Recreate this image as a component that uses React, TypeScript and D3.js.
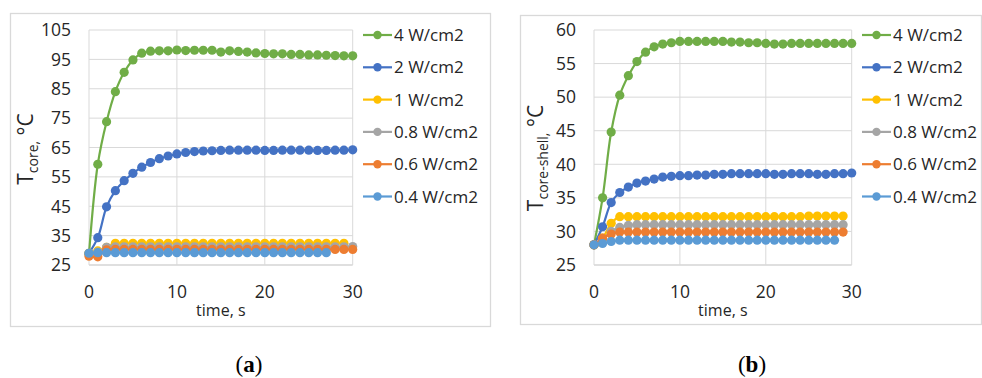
import React from "react";
import * as d3 from "d3";

// time axis, seconds
const TIME = d3.range(0, 31);

const SERIES_NAMES = ["4 W/cm2", "2 W/cm2", "1 W/cm2", "0.8 W/cm2", "0.6 W/cm2", "0.4 W/cm2"];
const SERIES_COLORS = ["#70AD47", "#4472C4", "#FFC000", "#A5A5A5", "#ED7D31", "#5B9BD5"];

// (a) core temperature
const coreP4 = [28.8, 59.3, 73.8, 84.0, 90.6, 94.8, 97.1, 97.8, 97.9, 97.9, 98.2, 98.0, 98.1, 98.1, 98.1, 97.5, 97.9, 97.7, 97.5, 97.2, 97.0, 96.9, 96.9, 96.7, 96.7, 96.5, 96.5, 96.4, 96.3, 96.2, 96.2];
const coreP2 = [29.0, 34.3, 44.8, 50.3, 53.7, 56.2, 58.3, 59.9, 61.2, 62.1, 62.8, 63.3, 63.6, 63.8, 63.9, 64.0, 64.1, 64.1, 64.1, 64.1, 64.0, 64.0, 64.1, 64.1, 64.1, 64.1, 64.0, 64.0, 64.1, 64.1, 64.2];
const coreP1 = [29.0, 29.8, 31.0, 32.4, 32.4, 32.4, 32.4, 32.4, 32.4, 32.4, 32.4, 32.4, 32.4, 32.4, 32.4, 32.4, 32.4, 32.4, 32.4, 32.4, 32.4, 32.4, 32.4, 32.4, 32.4, 32.4, 32.4, 32.4, 32.4, 32.4];
const coreP08 = [29.0, 29.4, 31.0, 31.2, 31.2, 31.2, 31.2, 31.2, 31.2, 31.2, 31.2, 31.2, 31.2, 31.2, 31.2, 31.2, 31.2, 31.2, 31.2, 31.2, 31.2, 31.2, 31.2, 31.2, 31.2, 31.2, 31.2, 31.2, 31.2, 31.2, 31.3];
const coreP06 = [28.0, 27.8, 30.2, 30.3, 30.3, 30.3, 30.3, 30.3, 30.3, 30.3, 30.3, 30.3, 30.3, 30.3, 30.3, 30.3, 30.3, 30.3, 30.3, 30.3, 30.3, 30.3, 30.3, 30.3, 30.3, 30.3, 30.3, 30.3, 30.3, 30.3, 30.3];
const coreP04 = [29.0, 29.2, 29.2, 29.2, 29.2, 29.2, 29.2, 29.2, 29.2, 29.2, 29.2, 29.2, 29.2, 29.2, 29.2, 29.2, 29.2, 29.2, 29.2, 29.2, 29.2, 29.2, 29.2, 29.2, 29.2, 29.2, 29.2, 29.2];
const coreTicks = [25, 35, 45, 55, 65, 75, 85, 95, 105];

// (b) core-shell temperature
const shellP4 = [28.0, 35.0, 44.8, 50.3, 53.2, 55.3, 56.7, 57.5, 57.9, 58.1, 58.3, 58.3, 58.3, 58.3, 58.3, 58.3, 58.2, 58.2, 58.1, 58.1, 58.0, 57.9, 57.9, 58.0, 58.0, 58.0, 58.0, 58.0, 58.0, 58.0, 58.0];
const shellP2 = [28.0, 30.7, 34.3, 35.8, 36.6, 37.2, 37.5, 37.8, 38.1, 38.2, 38.3, 38.3, 38.4, 38.4, 38.5, 38.5, 38.6, 38.6, 38.6, 38.6, 38.6, 38.5, 38.5, 38.6, 38.6, 38.6, 38.5, 38.5, 38.6, 38.6, 38.7];
const shellP1 = [28.0, 29.0, 31.2, 32.2, 32.2, 32.2, 32.2, 32.2, 32.2, 32.2, 32.2, 32.2, 32.2, 32.2, 32.2, 32.2, 32.2, 32.2, 32.2, 32.2, 32.2, 32.2, 32.2, 32.2, 32.2, 32.3, 32.3, 32.3, 32.3, 32.3];
const shellP08 = [28.0, 28.8, 30.0, 30.6, 30.9, 31.0, 31.0, 31.0, 31.0, 31.0, 31.0, 31.0, 31.0, 31.0, 31.0, 31.0, 31.0, 31.0, 31.0, 31.0, 31.0, 31.0, 31.0, 31.0, 31.0, 31.0, 31.0, 31.0, 31.0, 31.0];
const shellP06 = [28.0, 29.0, 29.6, 29.9, 29.9, 29.9, 29.9, 29.9, 29.9, 29.9, 29.9, 29.9, 29.9, 29.9, 29.9, 29.9, 29.9, 29.9, 29.9, 29.9, 29.9, 29.9, 29.9, 29.9, 29.9, 29.9, 29.9, 29.9, 29.9, 29.9];
const shellP04 = [28.0, 28.2, 28.5, 28.7, 28.7, 28.7, 28.7, 28.7, 28.7, 28.7, 28.7, 28.7, 28.7, 28.7, 28.7, 28.7, 28.7, 28.7, 28.7, 28.7, 28.7, 28.7, 28.7, 28.7, 28.7, 28.7, 28.7, 28.7, 28.7];
const shellTicks = [25, 30, 35, 40, 45, 50, 55, 60];

const X_TICKS = [0, 10, 20, 30];

const FONT = "'Open Sans', 'Noto Sans', sans-serif";
const GRID = "#d9d9d9";

type PanelProps = {
  frame: { x0: number; y0: number; x1: number; y1: number };
  plot: { left: number; right: number; top: number; bottom: number };
  yTicks: number[];
  series: number[][];
  ySub: string;
  yLabelPos: { x: number; y: number };
  legendX: number;
  caption: string;
  captionX: number;
};

function Panel(p: PanelProps) {
  const x = d3.scaleLinear().domain([0, 30]).range([p.plot.left, p.plot.right]);
  const y = d3
    .scaleLinear()
    .domain([p.yTicks[0], p.yTicks[p.yTicks.length - 1]])
    .range([p.plot.bottom, p.plot.top]);
  const line = d3
    .line<number>()
    .x((d, i) => x(TIME[i]))
    .y((d) => y(d))
    .curve(d3.curveCatmullRom.alpha(0.5));

  const legendY = d3.scalePoint<number>().domain(d3.range(6)).range([35, 196.5]);

  return (
    <g>
      <rect
        x={p.frame.x0 + 0.5}
        y={p.frame.y0 + 0.5}
        width={p.frame.x1 - p.frame.x0}
        height={p.frame.y1 - p.frame.y0}
        fill="#fff"
        stroke={GRID}
        strokeWidth={1.3}
      />
      {/* grid */}
      {p.yTicks.map((t) => (
        <line key={"h" + t} x1={p.plot.left} x2={p.plot.right} y1={y(t)} y2={y(t)} stroke={t === p.yTicks[0] ? "#bfbfbf" : GRID} strokeWidth={1} />
      ))}
      {X_TICKS.map((t) => (
        <line key={"v" + t} x1={x(t)} x2={x(t)} y1={p.plot.top} y2={p.plot.bottom} stroke={GRID} strokeWidth={1} />
      ))}
      {/* tick labels */}
      {p.yTicks.map((t) => (
        <text key={"yt" + t} x={p.plot.left - 18} y={y(t)} dy="0.36em" textAnchor="end" fontFamily={FONT} fontSize={17.5} fill="#262626">
          {t}
        </text>
      ))}
      {X_TICKS.map((t) => (
        <text key={"xt" + t} x={x(t)} y={p.plot.bottom + 33} textAnchor="middle" fontFamily={FONT} fontSize={17.5} fill="#262626">
          {t}
        </text>
      ))}
      <text x={(p.plot.left + p.plot.right) / 2} y={p.plot.bottom + 51} textAnchor="middle" fontFamily={FONT} fontSize={16} fill="#262626">
        time, s
      </text>
      <text
        transform={`translate(${p.yLabelPos.x},${p.yLabelPos.y}) rotate(-90)`}
        textAnchor="middle"
        fontFamily={FONT}
        fontSize={21}
        fill="#262626"
      >
        <tspan>T</tspan>
        <tspan fontSize={14} dy={5}>{p.ySub}</tspan>
        <tspan dy={-5}> °C</tspan>
      </text>
      {/* series */}
      {p.series.map((s, i) => (
        <g key={"s" + i}>
          <path d={line(s) || ""} fill="none" stroke={SERIES_COLORS[i]} strokeWidth={2.2} />
          {s.map((v, j) => (
            <circle key={j} cx={x(TIME[j])} cy={y(v)} r={4.6} fill={SERIES_COLORS[i]} />
          ))}
        </g>
      ))}
      {/* legend */}
      {SERIES_NAMES.map((n, i) => (
        <g key={"l" + i}>
          <line x1={p.legendX} x2={p.legendX + 29} y1={legendY(i)} y2={legendY(i)} stroke={SERIES_COLORS[i]} strokeWidth={2.2} />
          <circle cx={p.legendX + 14.5} cy={legendY(i)} r={4.2} fill={SERIES_COLORS[i]} />
          <text x={p.legendX + 31} y={legendY(i)} dy="0.36em" fontFamily={FONT} fontSize={17} fill="#262626">
            {n}
          </text>
        </g>
      ))}
      <text x={p.captionX} y={372} textAnchor="middle" fontFamily="'Liberation Serif', serif" fontSize={23} fill="#000">
        (<tspan fontWeight="bold">{p.caption}</tspan>)
      </text>
    </g>
  );
}

export default function App() {
  return (
    <svg width={982} height={378} style={{ position: "absolute", left: 0, top: 0, background: "#fff" }}>
      <Panel
        frame={{ x0: 10, y0: 13, x1: 490, y1: 326 }}
        plot={{ left: 89, right: 352.7, top: 30, bottom: 265 }}
        yTicks={coreTicks}
        series={[coreP4, coreP2, coreP1, coreP08, coreP06, coreP04]}
        ySub="core,"
        yLabelPos={{ x: 33, y: 149 }}
        legendX={363}
        caption="a"
        captionX={249}
      />
      <Panel
        frame={{ x0: 520, y0: 15, x1: 981, y1: 324 }}
        plot={{ left: 594, right: 851.7, top: 30, bottom: 265 }}
        yTicks={shellTicks}
        series={[shellP4, shellP2, shellP1, shellP08, shellP06, shellP04]}
        ySub="core-shell,"
        yLabelPos={{ x: 543, y: 158 }}
        legendX={862}
        caption="b"
        captionX={752}
      />
    </svg>
  );
}
